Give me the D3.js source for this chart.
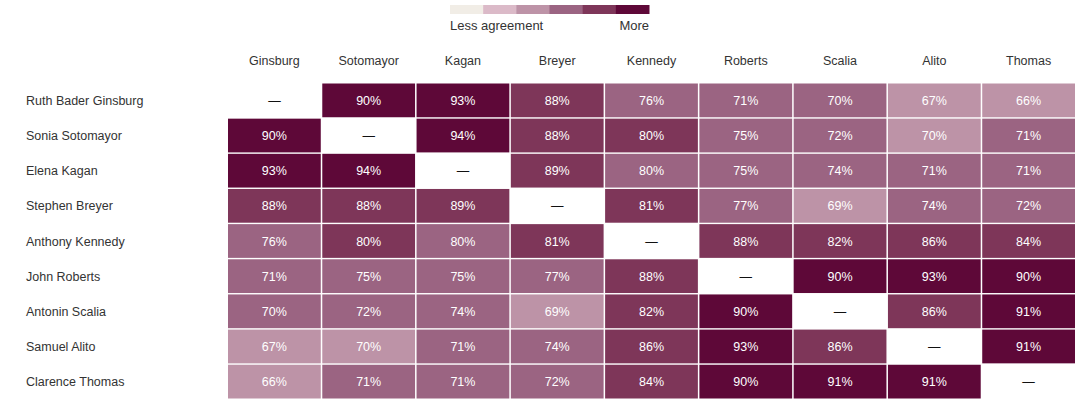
<!DOCTYPE html>
<html>
<head>
<meta charset="utf-8">
<script src="https://cdn.jsdelivr.net/npm/d3@7"></script>
<style>
  body { margin: 0; background: #fff; }
  text { font-family: "Liberation Sans", Arial, sans-serif; }
</style>
</head>
<body>
<svg id="chart" width="1092" height="407"></svg>
<script>
const shortNames = ["Ginsburg", "Sotomayor", "Kagan", "Breyer", "Kennedy", "Roberts", "Scalia", "Alito", "Thomas"];
const fullNames = ["Ruth Bader Ginsburg", "Sonia Sotomayor", "Elena Kagan", "Stephen Breyer", "Anthony Kennedy",
    "John Roberts", "Antonin Scalia", "Samuel Alito", "Clarence Thomas"];

// agreement (%), rows follow fullNames, columns follow shortNames; null = same justice
const agreement = [
    [null, 90, 93, 88, 76, 71, 70.4, 67, 66],
    [90, null, 94, 88, 80.4, 75, 72, 69.6, 71],
    [93, 94, null, 89, 79.6, 75, 74, 71, 71],
    [88, 88, 89, null, 81, 77, 69, 74, 72],
    [76, 80.4, 79.6, 81, null, 88, 82, 86, 84],
    [71, 75, 75, 77, 88, null, 90, 93, 90],
    [70.4, 72, 74, 69, 82, 90, null, 86, 91],
    [67, 69.6, 71, 74, 86, 93, 86, null, 91],
    [66, 71, 71, 72, 84, 90, 91, 91, null]
];

const thresholds = [50, 60, 70, 80, 90];
const palette = ["#f1ede6", "#dbbac8", "#bd93a7", "#9b6482", "#7e3659", "#5e0838"];

const svg = d3.select("#chart");

const x = d3.scaleBand()
    .domain(shortNames)
    .range([228, 1075])
    .paddingInner(0.016);

const y = d3.scaleBand()
    .domain(fullNames)
    .range([83.5, 398.5])
    .paddingInner(0.04);

const color = d3.scaleThreshold()
    .domain(thresholds)
    .range(palette);

// legend
const legendX = d3.scaleBand()
    .domain(d3.range(palette.length))
    .range([450, 649]);

const legend = svg.append("g").attr("class", "legend");

legend.selectAll("rect")
    .data(palette)
    .join("rect")
    .attr("x", (d, i) => legendX(i))
    .attr("y", 5)
    .attr("width", legendX.bandwidth() + 0.5)
    .attr("height", 9)
    .attr("fill", d => d);

legend.append("text")
    .attr("x", 450)
    .attr("y", 29.5)
    .attr("font-size", 13)
    .attr("fill", "#333")
    .text("Less agreement");

legend.append("text")
    .attr("x", 649)
    .attr("y", 29.5)
    .attr("text-anchor", "end")
    .attr("font-size", 13)
    .attr("fill", "#333")
    .text("More");

// column headers
svg.append("g")
    .selectAll("text")
    .data(shortNames)
    .join("text")
    .attr("x", d => x(d) + x.bandwidth() / 2)
    .attr("y", 65)
    .attr("text-anchor", "middle")
    .attr("font-size", 12.5)
    .attr("fill", "#333")
    .text(d => d);

// row labels
svg.append("g")
    .selectAll("text")
    .data(fullNames)
    .join("text")
    .attr("x", 26)
    .attr("y", d => y(d) + y.bandwidth() / 2 + 4.5)
    .attr("font-size", 12.5)
    .attr("fill", "#333")
    .text(d => d);

const cells = agreement.flatMap((row, i) =>
    row.map((v, j) => ({row: fullNames[i], col: shortNames[j], value: v})));

svg.append("g")
    .selectAll("rect")
    .data(cells.filter(d => d.value !== null))
    .join("rect")
    .attr("x", d => x(d.col))
    .attr("y", d => y(d.row))
    .attr("width", x.bandwidth())
    .attr("height", y.bandwidth())
    .attr("fill", d => color(d.value));

svg.append("g")
    .selectAll("text")
    .data(cells)
    .join("text")
    .attr("x", d => x(d.col) + x.bandwidth() / 2)
    .attr("y", d => y(d.row) + y.bandwidth() / 2 + 4.5)
    .attr("text-anchor", "middle")
    .attr("font-size", 12.5)
    .attr("fill", d => d.value === null ? "#111" : "#fff")
    .text(d => d.value === null ? "\u2014" : Math.round(d.value) + "%");
</script>
</body>
</html>
